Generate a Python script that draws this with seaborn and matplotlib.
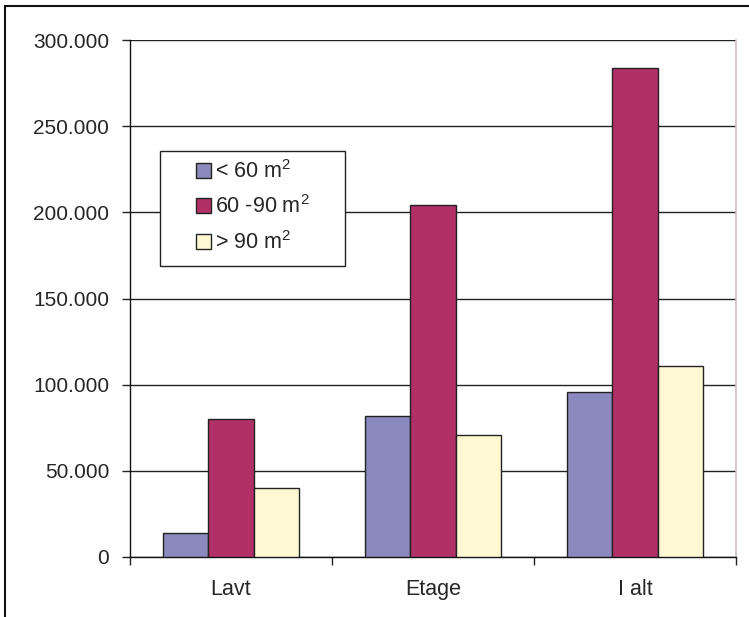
import matplotlib
matplotlib.use("Agg")
import matplotlib.pyplot as plt
from matplotlib.patches import Rectangle, Patch
from matplotlib.ticker import FuncFormatter, FixedLocator
import seaborn as sns
import pandas as pd

# Data: number of dwellings by building type and floor area
categories = ["Lavt", "Etage", "I alt"]
size_groups = ["< 60 m$^2$", "60 -90 m$^2$", "> 90 m$^2$"]
under_60 = [14000, 82000, 96000]
from_60_to_90 = [80000, 204000, 284000]
over_90 = [40000, 71000, 111000]
y_ticks = [0, 50000, 100000, 150000, 200000, 250000, 300000]

colors = ["#8B89BE", "#B03067", "#FFF8D2"]

rows = []
for grp, vals in zip(size_groups, [under_60, from_60_to_90, over_90]):
    for cat, v in zip(categories, vals):
        rows.append({"Type": cat, "Areal": grp, "Antal": v})
df = pd.DataFrame(rows)

sns.set_style("white")
plt.rcParams["font.family"] = ["Liberation Sans", "DejaVu Sans"]
plt.rcParams["mathtext.fontset"] = "custom"
plt.rcParams["mathtext.rm"] = "Liberation Sans"
plt.rcParams["mathtext.it"] = "Liberation Sans"
plt.rcParams["mathtext.bf"] = "Liberation Sans"

W, H = 749, 617
fig = plt.figure(figsize=(W / 100, H / 100), dpi=100)
fig.patch.set_facecolor("white")

# plot area in pixel coordinates
x0, x1, y_top, y_bot = 130, 736, 40, 557
ax = fig.add_axes([x0 / W, (H - y_bot) / H, (x1 - x0) / W, (y_bot - y_top) / H])

sns.barplot(data=df, x="Type", y="Antal", hue="Areal", order=categories,
            hue_order=size_groups, palette=colors, width=0.67, gap=0,
            edgecolor="#222222", linewidth=1.0, saturation=1, ax=ax,
            legend=False, zorder=3)

ax.set_xlim(-0.5, len(categories) - 0.5)
ax.set_ylim(0, 300000)
ax.set_yticks(y_ticks)
ax.yaxis.set_major_formatter(FuncFormatter(lambda v, p: f"{int(v):,}".replace(",", ".")))
ax.grid(axis="y", color="#222222", linewidth=1.0, zorder=0)
ax.set_axisbelow(True)
ax.set_xlabel("")
ax.set_ylabel("")

ax.xaxis.set_minor_locator(FixedLocator([-0.5, 0.5, 1.5, 2.5]))
ax.tick_params(axis="x", which="major", length=0, pad=16, labelsize=15.5)
ax.tick_params(axis="x", which="minor", length=6, width=1, color="#222222",
               direction="out", bottom=True)
ax.tick_params(axis="y", which="major", length=6, width=1, color="#222222",
               direction="out", left=True, pad=9, labelsize=15)

for s in ["left", "bottom"]:
    ax.spines[s].set_color("#111111")
    ax.spines[s].set_linewidth(1.0)
ax.spines["top"].set_visible(False)
ax.spines["right"].set_color("#c8bcc4")
ax.spines["right"].set_linewidth(1.2)

# legend box
lx0, lx1, ly0, ly1 = 160, 345, 151, 266
fig.add_artist(Rectangle((lx0 / W, (H - ly1) / H), (lx1 - lx0) / W, (ly1 - ly0) / H,
                         transform=fig.transFigure, facecolor="white",
                         edgecolor="#222222", linewidth=1.0, zorder=10))
handles = [Patch(facecolor=c, edgecolor="#222222", linewidth=1.0) for c in colors]
leg = fig.legend(handles, size_groups, loc="upper left",
                 bbox_to_anchor=(196 / W, (H - 160) / H), frameon=False,
                 fontsize=15.5, handlelength=0.68, handleheight=0.68,
                 handletextpad=0.2, labelspacing=0.58, borderpad=0,
                 borderaxespad=0)
leg.set_zorder(11)

# outer frame of the figure
fig.add_artist(Rectangle((5 / W, -0.1), 1.2, 1.1 - 6 / H, transform=fig.transFigure,
                         fill=False, edgecolor="#111111", linewidth=1.5,
                         clip_on=False))

fig.savefig("out.png", dpi=100)
